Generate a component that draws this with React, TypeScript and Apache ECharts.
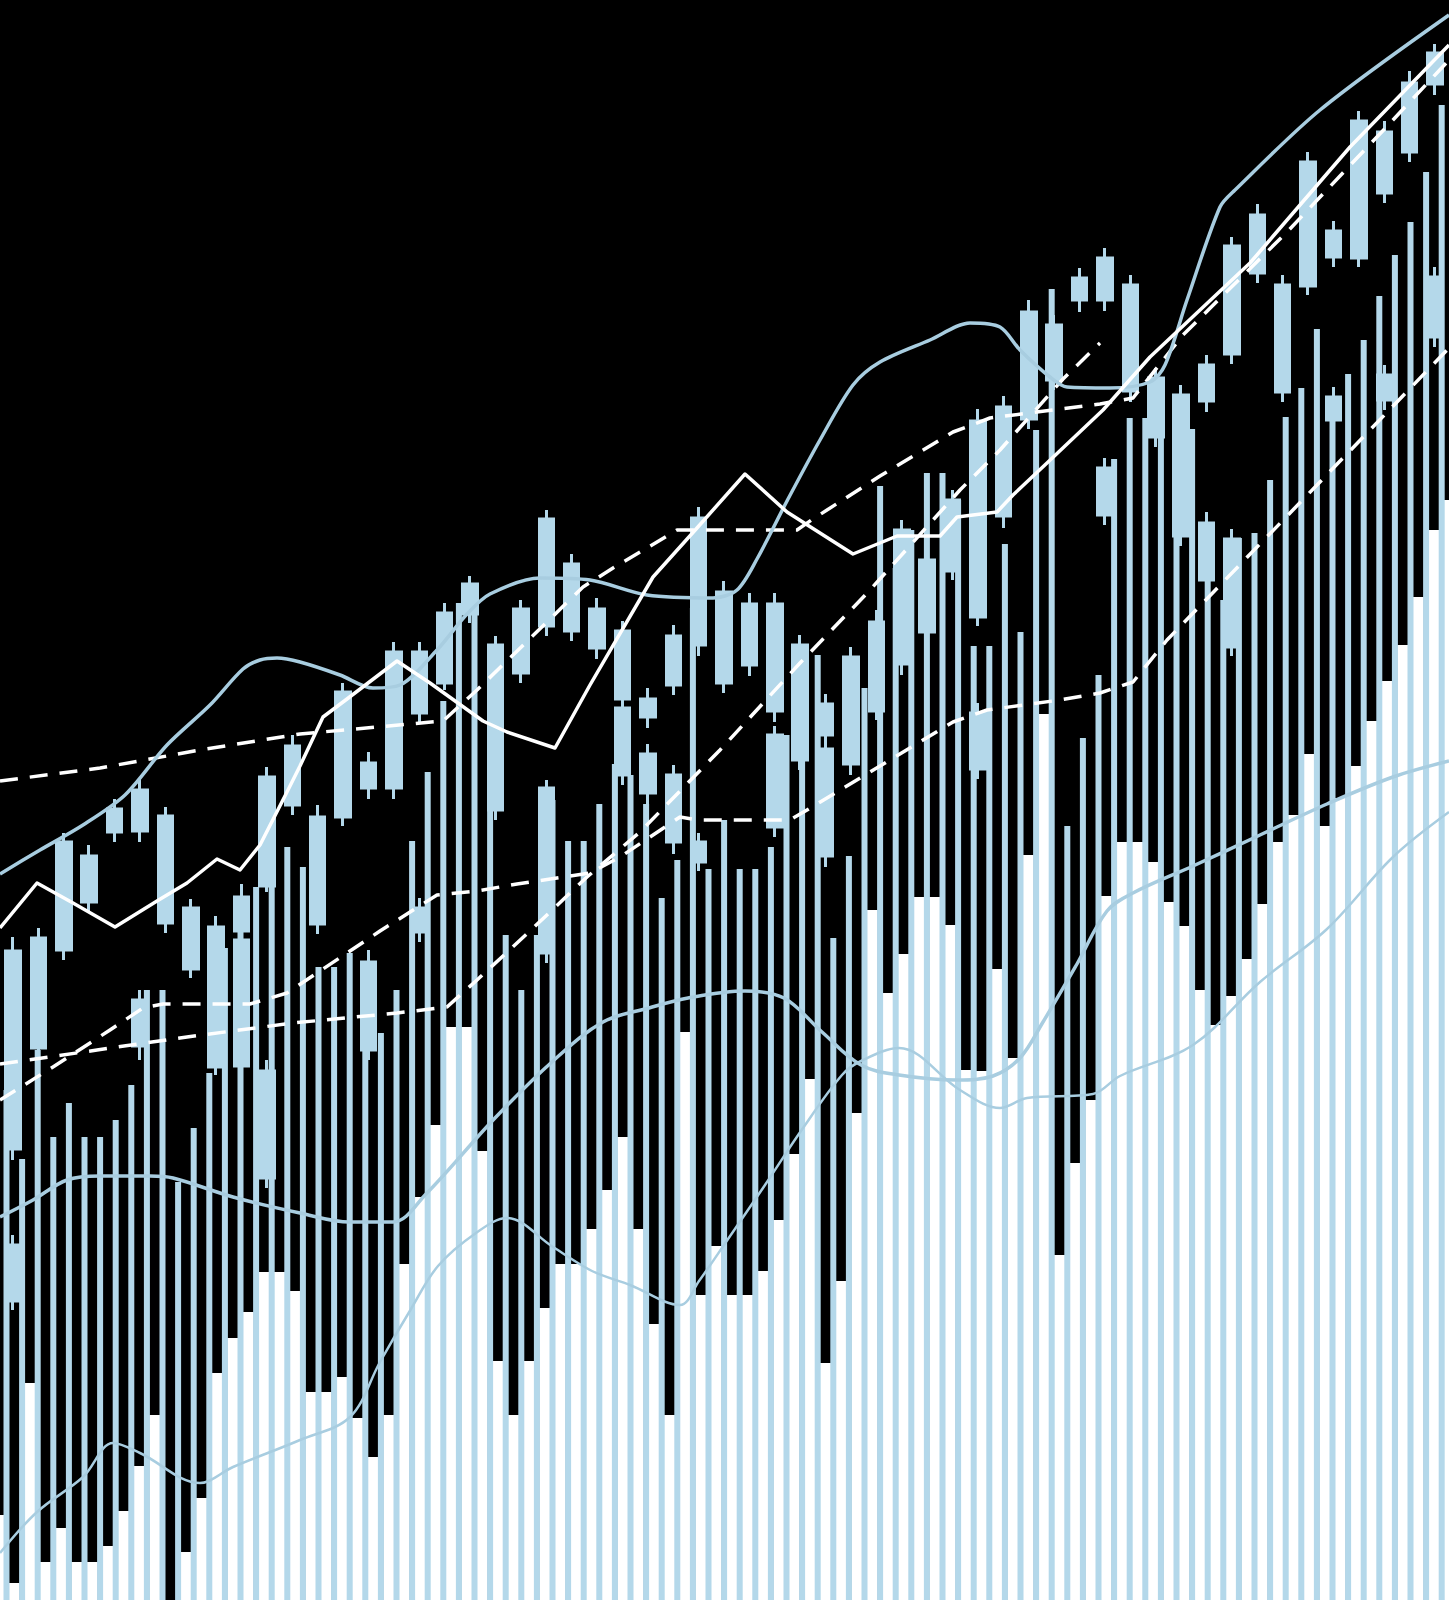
import React, { useEffect, useRef } from "react";
import * as echarts from "echarts";

const W = 1449;
const H = 1600;
const BLUE = "#b4d8ea";
const LINE_BLUE = "#a8cde0";

// ---- Upper candlesticks (pixel-y readings from the top of the picture) ----
const upperWickTop = [937, 928, 833, 845, 799, 779, 807, 899, 916, 884, 767, 735, 805, 683, 752, 642, 642, 603, 576, 636, 600, 510, 554, 598, 621, 688, 625, 507, 581, 593, 593, 635, 694, 647, 610, 520, 550, 490, 409, 396, 300, 315, 268, 248, 275, 368, 385, 355, 237, 204, 275, 152, 221, 111, 121, 71, 44];
const upperBodyTop = [951, 938, 842, 856, 809, 790, 816, 908, 927, 897, 777, 746, 817, 692, 763, 652, 652, 613, 584, 645, 609, 519, 564, 609, 631, 699, 636, 518, 592, 604, 604, 645, 704, 657, 622, 530, 560, 500, 421, 407, 312, 325, 278, 258, 285, 378, 395, 365, 246, 215, 285, 162, 231, 121, 132, 83, 53];
const upperBodyBottom = [1051, 1048, 950, 902, 832, 831, 923, 969, 1067, 931, 886, 805, 924, 817, 788, 788, 713, 683, 614, 810, 673, 626, 631, 648, 699, 717, 685, 645, 683, 665, 711, 760, 735, 764, 711, 664, 632, 571, 617, 516, 419, 380, 300, 300, 391, 437, 536, 401, 354, 273, 392, 286, 257, 258, 193, 152, 84];
const upperWickBottom = [1065, 1060, 960, 912, 842, 842, 933, 978, 1075, 945, 892, 815, 934, 826, 799, 799, 723, 690, 623, 820, 683, 636, 641, 659, 710, 728, 695, 656, 693, 676, 722, 770, 746, 775, 720, 675, 642, 580, 626, 528, 429, 390, 312, 311, 402, 447, 546, 412, 364, 283, 402, 295, 267, 267, 203, 162, 95];

// ---- Lower candlesticks (slot index, wick top, body top, body bottom, wick bottom) ----
const lowerSlot = [0, 5, 9, 10, 14, 16, 21, 24, 25, 26, 27, 30, 32, 38, 43, 47, 48, 52, 54, 56];
const lowerWickTop = [1051, 990, 930, 1060, 950, 898, 780, 698, 744, 765, 833, 726, 740, 703, 458, 512, 529, 387, 365, 267];
const lowerBodyTop = [1051, 1000, 940, 1071, 962, 908, 788, 708, 754, 775, 842, 735, 749, 713, 468, 523, 539, 397, 375, 277];
const lowerBodyBottom = [1149, 1046, 1066, 1178, 1050, 932, 953, 775, 793, 842, 862, 827, 856, 769, 515, 580, 647, 420, 400, 337];
const lowerWickBottom = [1160, 1060, 1080, 1188, 1060, 942, 963, 785, 804, 854, 871, 837, 867, 779, 525, 592, 656, 430, 410, 347];
const extraSlot = [0];
const extraWickTop = [1235];
const extraBodyTop = [1245];
const extraBodyBottom = [1301];
const extraWickBottom = [1310];

// ---- Volume-style bars (pixel-y of each bar top) ----
const blueTops = [1100, 1090, 1159, 1050, 1137, 1103, 1137, 1137, 1120, 1085,
  990, 990, 1182, 1128, 1073, 948, 897, 887, 886, 847,
  867, 967, 967, 953, 993, 1033, 990, 841, 772, 701,
  603, 614, 745, 935, 990, 935, 800, 841, 841, 804,
  764, 775, 804, 898, 860, 608, 869, 820, 869, 869,
  847, 735, 646, 655, 938, 856, 688, 486, 568, 530,
  473, 473, 500, 646, 646, 544, 632, 430, 289, 826,
  738, 675, 459, 418, 418, 377, 475, 429, 565, 600,
  538, 533, 480, 417, 388, 329, 401, 374, 340, 296,
  255, 222, 172, 105];
const whiteTops = [1515, 1583, 1383, 1562, 1528, 1562, 1562, 1546, 1511, 1466,
  1415, 1600, 1552, 1498, 1373, 1338, 1312, 1272, 1272, 1291,
  1392, 1392, 1377, 1418, 1457, 1415, 1264, 1197, 1125, 1027,
  1027, 1151, 1361, 1415, 1361, 1308, 1264, 1264, 1229, 1190,
  1137, 1229, 1324, 1415, 1032, 1295, 1246, 1295, 1295, 1271,
  1220, 1154, 1079, 1363, 1281, 1113, 910, 993, 954, 897,
  897, 925, 1070, 1071, 969, 1058, 855, 714, 1255, 1163,
  1100, 896, 842, 842, 862, 902, 926, 990, 1025, 996,
  959, 904, 842, 815, 754, 826, 798, 766, 721, 681,
  645, 597, 530, 500];

// ---- Lines (x, pixel-y) ----
const upperBlueX = [0, 40, 83, 125, 167, 210, 243, 260, 277, 300, 340, 373, 400, 437, 467, 490, 540, 590, 647, 713, 737, 757, 787, 820, 853, 880, 930, 970, 1000, 1020, 1050, 1067, 1110, 1150, 1165, 1187, 1220, 1235, 1320, 1449];
const upperBlueY = [874, 850, 825, 795, 745, 705, 669, 660, 658, 662, 675, 688, 685, 650, 614, 594, 578, 580, 595, 598, 590, 559, 501, 440, 385, 362, 340, 323, 327, 350, 377, 387, 388, 382, 365, 300, 207, 190, 110, 15];
const whiteX = [0, 37, 73, 115, 157, 187, 217, 240, 260, 287, 300, 323, 347, 397, 430, 483, 507, 555, 590, 653, 697, 745, 787, 853, 897, 940, 957, 997, 1013, 1047, 1103, 1150, 1250, 1350, 1449];
const whiteY = [928, 883, 903, 927, 901, 883, 859, 870, 845, 792, 766, 717, 699, 661, 683, 721, 732, 748, 685, 577, 528, 474, 512, 554, 536, 536, 517, 512, 495, 463, 410, 357, 263, 147, 45];
const dashAX = [0, 100, 200, 300, 443, 477, 583, 613, 647, 677, 797, 813, 880, 953, 990, 1100, 1133, 1183, 1287, 1392, 1449];
const dashAY = [781, 768, 750, 734, 721, 690, 587, 568, 548, 530, 530, 519, 476, 432, 418, 404, 398, 335, 232, 121, 60];
const dashCX = [0, 97, 187, 293, 397, 447, 477, 530, 587, 640, 720, 800, 870, 960, 1000, 1063, 1100];
const dashCY = [1064, 1050, 1037, 1023, 1013, 1007, 980, 931, 877, 832, 750, 663, 590, 490, 450, 379, 343];
const dashDX = [0, 53, 110, 143, 163, 250, 287, 317, 380, 437, 477, 517, 590, 620, 680, 697, 790, 807, 890, 953, 987, 1060, 1100, 1133, 1167, 1290, 1449];
const dashDY = [1100, 1067, 1030, 1008, 1004, 1004, 993, 973, 931, 895, 891, 884, 873, 857, 817, 820, 820, 810, 760, 722, 710, 700, 693, 682, 640, 513, 348];
const midBlueX = [0, 33, 67, 100, 150, 173, 233, 300, 350, 393, 426, 495, 553, 603, 649, 688, 745, 784, 822, 861, 899, 957, 993, 1020, 1043, 1077, 1107, 1133, 1193, 1260, 1327, 1393, 1449];
const midBlueY = [1217, 1200, 1180, 1176, 1176, 1178, 1197, 1213, 1222, 1222, 1194, 1118, 1061, 1022, 1008, 998, 991, 998, 1032, 1065, 1075, 1080, 1076, 1058, 1022, 964, 911, 893, 866, 835, 804, 777, 761];
const lowBlueX = [0, 37, 83, 113, 140, 200, 233, 300, 350, 380, 411, 438, 476, 507, 553, 592, 630, 680, 699, 726, 765, 803, 842, 861, 899, 960, 1000, 1027, 1093, 1120, 1193, 1260, 1327, 1393, 1449];
const lowBlueY = [1553, 1512, 1477, 1443, 1453, 1483, 1467, 1440, 1417, 1362, 1309, 1266, 1233, 1218, 1247, 1271, 1285, 1305, 1281, 1242, 1185, 1128, 1075, 1061, 1048, 1090, 1108, 1098, 1094, 1076, 1045, 982, 929, 857, 812];

const toV = (y: number) => H - y;

const candleCats = upperWickTop.map((_, i) => "D" + (i + 1));
const barCats = blueTops.map((_, i) => "V" + (i + 1));

const upperData = upperWickTop.map((_, i) => [
  toV(upperBodyBottom[i]), toV(upperBodyTop[i]), toV(upperWickBottom[i]), toV(upperWickTop[i]),
]);

function sparse(slots: number[], wt: number[], bt: number[], bb: number[], wb: number[]) {
  const out: any[] = candleCats.map(() => ["-", "-", "-", "-"]);
  slots.forEach((s, k) => {
    out[s] = [toV(bb[k]), toV(bt[k]), toV(wb[k]), toV(wt[k])];
  });
  return out;
}
const lowerData = sparse(lowerSlot, lowerWickTop, lowerBodyTop, lowerBodyBottom, lowerWickBottom);
const extraData = sparse(extraSlot, extraWickTop, extraBodyTop, extraBodyBottom, extraWickBottom);

const pts = (xs: number[], ys: number[]) => xs.map((x, i) => [x, toV(ys[i])]);

const candleStyle = {
  color: BLUE, color0: BLUE, borderColor: BLUE, borderColor0: BLUE, borderColorDoji: BLUE, borderWidth: 3,
};

function lineSeries(data: number[][], color: string, width: number, opts: any = {}) {
  return {
    type: "line", xAxisIndex: 3, yAxisIndex: 3, data, symbol: "none", silent: true, z: 5,
    lineStyle: { color, width, cap: "butt", join: "round", ...(opts.lineStyle || {}) },
    smooth: opts.smooth ?? false,
  };
}

const yAx = (gridIndex: number) => ({ type: "value", gridIndex, min: 0, max: H, show: false, splitLine: { show: false } });
const gridBox = (left: number, right: number) => ({
  left, right, top: 0, bottom: 0, containLabel: false, outerBoundsMode: "none",
});

const option: any = {
  backgroundColor: "#000000",
  animation: false,
  grid: [
    gridBox(0.3, 1.2),
    gridBox(-16.9, -0.5),
    gridBox(-9.1, -8.3),
    gridBox(0, 0),
  ],
  xAxis: [
    { type: "category", gridIndex: 0, data: candleCats, show: false },
    { type: "category", gridIndex: 1, data: barCats, show: false },
    { type: "category", gridIndex: 2, data: barCats, show: false },
    { type: "value", gridIndex: 3, min: 0, max: W, show: false, splitLine: { show: false } },
  ],
  yAxis: [yAx(0), yAx(1), yAx(2), yAx(3)],
  series: [
    { type: "bar", xAxisIndex: 2, yAxisIndex: 2, data: whiteTops.map(toV), barWidth: 11, itemStyle: { color: "#ffffff" }, z: 1, silent: true },
    { type: "bar", xAxisIndex: 1, yAxisIndex: 1, data: blueTops.map(toV), barWidth: 6, itemStyle: { color: BLUE }, z: 2, silent: true },
    { type: "candlestick", xAxisIndex: 0, yAxisIndex: 0, data: extraData, barWidth: 15, itemStyle: candleStyle, z: 3, silent: true },
    { type: "candlestick", xAxisIndex: 0, yAxisIndex: 0, data: lowerData, barWidth: 15, itemStyle: candleStyle, z: 3, silent: true },
    { type: "candlestick", xAxisIndex: 0, yAxisIndex: 0, data: upperData, barWidth: 15, itemStyle: candleStyle, z: 3, silent: true },
    lineSeries(pts(lowBlueX, lowBlueY), LINE_BLUE, 2.5, { smooth: 0.35 }),
    lineSeries(pts(midBlueX, midBlueY), LINE_BLUE, 3.5, { smooth: 0.35 }),
    lineSeries(pts(dashCX, dashCY), "#ffffff", 3.5, { lineStyle: { type: [18, 12] } }),
    lineSeries(pts(dashDX, dashDY), "#ffffff", 3.5, { lineStyle: { type: [18, 12] } }),
    lineSeries(pts(dashAX, dashAY), "#ffffff", 3.5, { lineStyle: { type: [18, 12] } }),
    lineSeries(pts(upperBlueX, upperBlueY), LINE_BLUE, 3.5, { smooth: 0.3 }),
    lineSeries(pts(whiteX, whiteY), "#ffffff", 3.5),
  ],
};

export default function App() {
  const ref = useRef<HTMLDivElement>(null);
  useEffect(() => {
    if (!ref.current) return;
    const chart = echarts.init(ref.current, null, { renderer: "svg" });
    chart.setOption(option);
    return () => chart.dispose();
  }, []);
  return (
    <div
      ref={ref}
      style={{ position: "absolute", left: 0, top: 0, width: W, height: H, background: "#000" }}
    />
  );
}
